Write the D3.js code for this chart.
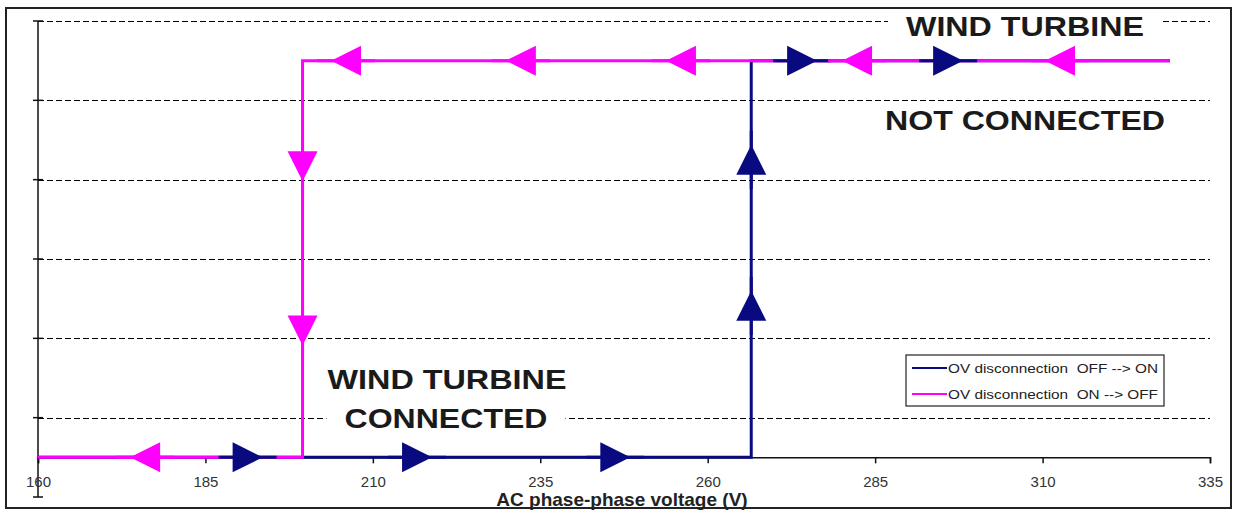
<!DOCTYPE html>
<html>
<head>
<meta charset="utf-8">
<script src="https://cdn.jsdelivr.net/npm/d3@7"></script>
<style>
  body { margin: 0; background: #fff; }
  text { font-family: "Liberation Sans", Arial, sans-serif; }
</style>
</head>
<body>
<div id="chart"></div>
<script>
// series: OV disconnection hysteresis (voltage, state)
const offOnX = [160, 266.5, 266.5, 329];
const offOnY = [0.5, 0.5, 5.5, 5.5];
const onOffX = [329, 199.5, 199.5, 160];
const onOffY = [5.5, 5.5, 0.5, 0.5];

// arrow markers along each path: voltage, state, direction
const offOnArrowX = [191.3, 216.6, 246.2, 266.5, 266.5, 274.1, 295.9];
const offOnArrowY = [0.5, 0.5, 0.5, 2.41, 4.25, 5.5, 5.5];
const offOnArrowDir = ['right', 'right', 'right', 'up', 'up', 'right', 'right'];
const onOffArrowX = [176, 199.5, 199.5, 206, 232.1, 256, 282.3, 312.6];
const onOffArrowY = [0.5, 2.1, 4.17, 5.5, 5.5, 5.5, 5.5, 5.5];
const onOffArrowDir = ['left', 'down', 'down', 'left', 'left', 'left', 'left', 'left'];

const xTicks = [160, 185, 210, 235, 260, 285, 310, 335];
const yTicks = [0, 1, 2, 3, 4, 5, 6];
const seriesNames = ['OV disconnection  OFF --> ON', 'OV disconnection  ON --> OFF'];
const seriesColors = ['#0a0a80', '#ff00ff'];

const W = 1238, H = 511;
const svg = d3.select('#chart').append('svg')
  .attr('width', W)
  .attr('height', H);

const x = d3.scaleLinear().domain([160, 335]).range([38, 1210]);
const y = d3.scaleLinear().domain([0, 6]).range([497, 21]);

// outer frame
svg.append('rect')
  .attr('x', 6).attr('y', 8)
  .attr('width', 1225).attr('height', 500)
  .attr('fill', 'none')
  .attr('stroke', '#222')
  .attr('stroke-width', 2);

// gridlines
svg.append('g')
  .selectAll('line')
  .data(yTicks.filter(d => d > 0))
  .enter().append('line')
  .attr('x1', x(160)).attr('x2', x(335))
  .attr('y1', d => Math.round(y(d)) + 0.5).attr('y2', d => Math.round(y(d)) + 0.5)
  .attr('stroke', '#000')
  .attr('stroke-width', 1)
  .attr('stroke-dasharray', '6,3');

// y axis with crossing ticks
const yAxis = svg.append('g');
yAxis.append('line')
  .attr('x1', x(160)).attr('x2', x(160))
  .attr('y1', y(0)).attr('y2', y(6))
  .attr('stroke', '#111').attr('stroke-width', 1.5);
yAxis.selectAll('.yt')
  .data(yTicks)
  .enter().append('line')
  .attr('x1', x(160) - 5).attr('x2', x(160) + 5)
  .attr('y1', d => y(d)).attr('y2', d => y(d))
  .attr('stroke', '#111').attr('stroke-width', 1.5);

// x axis crossing at the lower state
const xAxis = svg.append('g')
  .attr('transform', 'translate(0,' + y(0.5) + ')')
  .call(d3.axisBottom(x).tickValues(xTicks).tickSize(6).tickPadding(13).tickFormat(d3.format('d')));
xAxis.select('.domain').attr('stroke', '#111').attr('stroke-width', 1.5);
xAxis.selectAll('.tick line').attr('stroke', '#111').attr('stroke-width', 1.5);
xAxis.selectAll('.tick text')
  .attr('fill', '#333')
  .style('font-size', '15px')
  .style('font-family', '"Liberation Sans", Arial, sans-serif');

svg.append('text')
  .attr('x', 622).attr('y', 506)
  .attr('text-anchor', 'middle')
  .style('font-size', '19px')
  .style('font-weight', 'bold')
  .attr('fill', '#222')
  .text('AC phase-phase voltage (V)');

// text labels with white background boxes
function label(txt, cx, base, len, bg) {
  if (bg) {
    svg.append('rect')
      .attr('x', cx - len / 2 - 18).attr('y', base - 24)
      .attr('width', len + 36).attr('height', 30)
      .attr('fill', '#fff');
  }
  svg.append('text')
    .attr('x', cx).attr('y', base)
    .attr('text-anchor', 'middle')
    .attr('textLength', len)
    .attr('lengthAdjust', 'spacingAndGlyphs')
    .style('font-size', '28px')
    .style('font-weight', 'bold')
    .attr('fill', '#1a1a1a')
    .text(txt);
}
label('WIND TURBINE', 1025, 36, 238, true);
label('NOT CONNECTED', 1025, 130, 280, false);
label('WIND TURBINE', 447, 389, 239, false);
label('CONNECTED', 446, 428, 203, true);

// series lines
const line = d3.line().x(d => x(d[0])).y(d => y(d[1]));
const series = [
  { name: seriesNames[0], color: seriesColors[0], xs: offOnX, ys: offOnY,
    ax: offOnArrowX, ay: offOnArrowY, ad: offOnArrowDir },
  { name: seriesNames[1], color: seriesColors[1], xs: onOffX, ys: onOffY,
    ax: onOffArrowX, ay: onOffArrowY, ad: onOffArrowDir }
];

series.forEach(s => {
  svg.append('path')
    .datum(d3.zip(s.xs, s.ys))
    .attr('d', line)
    .attr('fill', 'none')
    .attr('stroke', s.color)
    .attr('stroke-width', 3);
});

// arrow markers, each with its own short segment drawn on top
const rot = { right: 0, down: 90, left: 180, up: 270 };
series.forEach(s => {
  const g = svg.append('g');
  const arrows = g.selectAll('g')
    .data(d3.range(s.ax.length))
    .enter().append('g')
    .attr('transform', i => 'translate(' + x(s.ax[i]) + ',' + y(s.ay[i]) + ') rotate(' + rot[s.ad[i]] + ')');
  arrows.append('line')
    .attr('x1', -29).attr('x2', 29)
    .attr('stroke', s.color)
    .attr('stroke-width', 3);
  arrows.append('path')
    .attr('d', 'M-15,-15 L15,0 L-15,15 Z')
    .attr('fill', s.color);
});

// legend
const lg = svg.append('g');
lg.append('rect')
  .attr('x', 906).attr('y', 355)
  .attr('width', 258).attr('height', 51)
  .attr('fill', '#fff')
  .attr('stroke', '#222')
  .attr('stroke-width', 1.2);
series.forEach((s, i) => {
  const ly = 368 + i * 26;
  lg.append('line')
    .attr('x1', 912).attr('x2', 947)
    .attr('y1', ly).attr('y2', ly)
    .attr('stroke', s.color)
    .attr('stroke-width', 2);
  lg.append('text')
    .attr('x', 948).attr('y', ly + 5)
    .attr('textLength', 210)
    .attr('lengthAdjust', 'spacingAndGlyphs')
    .style('font-size', '13px')
    .style('white-space', 'pre')
    .attr('fill', '#222')
    .text(s.name);
});
</script>
</body>
</html>
